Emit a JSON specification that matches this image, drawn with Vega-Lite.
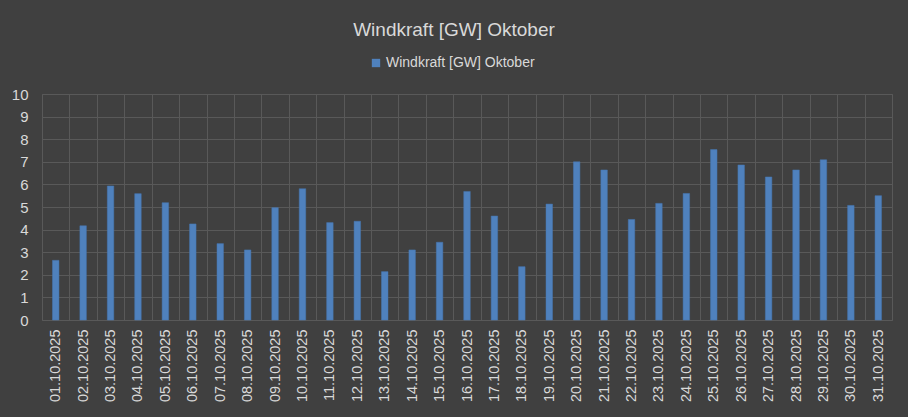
{
  "$schema": "https://vega.github.io/schema/vega-lite/v6.json",
  "width": 850,
  "height": 226,
  "autosize": "none",
  "padding": {"left": 42, "top": 94, "right": 16, "bottom": 97},
  "background": "#404040",
  "title": {
    "text": "Windkraft [GW] Oktober",
    "anchor": "middle",
    "frame": "group",
    "dx": -13,
    "offset": 16,
    "fontSize": 19,
    "fontWeight": "normal",
    "font": "Liberation Sans",
    "color": "#d9d9d9"
  },
  "config": {
    "view": {"stroke": "#595959", "strokeWidth": 1},
    "font": "Liberation Sans"
  },
  "data": {
    "values": [
      {"Datum": "01.10.2025", "GW": 2.64, "Serie": "Windkraft [GW] Oktober"},
      {"Datum": "02.10.2025", "GW": 4.17, "Serie": "Windkraft [GW] Oktober"},
      {"Datum": "03.10.2025", "GW": 5.93, "Serie": "Windkraft [GW] Oktober"},
      {"Datum": "04.10.2025", "GW": 5.59, "Serie": "Windkraft [GW] Oktober"},
      {"Datum": "05.10.2025", "GW": 5.19, "Serie": "Windkraft [GW] Oktober"},
      {"Datum": "06.10.2025", "GW": 4.25, "Serie": "Windkraft [GW] Oktober"},
      {"Datum": "07.10.2025", "GW": 3.38, "Serie": "Windkraft [GW] Oktober"},
      {"Datum": "08.10.2025", "GW": 3.10, "Serie": "Windkraft [GW] Oktober"},
      {"Datum": "09.10.2025", "GW": 4.97, "Serie": "Windkraft [GW] Oktober"},
      {"Datum": "10.10.2025", "GW": 5.81, "Serie": "Windkraft [GW] Oktober"},
      {"Datum": "11.10.2025", "GW": 4.31, "Serie": "Windkraft [GW] Oktober"},
      {"Datum": "12.10.2025", "GW": 4.37, "Serie": "Windkraft [GW] Oktober"},
      {"Datum": "13.10.2025", "GW": 2.14, "Serie": "Windkraft [GW] Oktober"},
      {"Datum": "14.10.2025", "GW": 3.10, "Serie": "Windkraft [GW] Oktober"},
      {"Datum": "15.10.2025", "GW": 3.44, "Serie": "Windkraft [GW] Oktober"},
      {"Datum": "16.10.2025", "GW": 5.69, "Serie": "Windkraft [GW] Oktober"},
      {"Datum": "17.10.2025", "GW": 4.60, "Serie": "Windkraft [GW] Oktober"},
      {"Datum": "18.10.2025", "GW": 2.36, "Serie": "Windkraft [GW] Oktober"},
      {"Datum": "19.10.2025", "GW": 5.13, "Serie": "Windkraft [GW] Oktober"},
      {"Datum": "20.10.2025", "GW": 7.00, "Serie": "Windkraft [GW] Oktober"},
      {"Datum": "21.10.2025", "GW": 6.64, "Serie": "Windkraft [GW] Oktober"},
      {"Datum": "22.10.2025", "GW": 4.45, "Serie": "Windkraft [GW] Oktober"},
      {"Datum": "23.10.2025", "GW": 5.16, "Serie": "Windkraft [GW] Oktober"},
      {"Datum": "24.10.2025", "GW": 5.60, "Serie": "Windkraft [GW] Oktober"},
      {"Datum": "25.10.2025", "GW": 7.54, "Serie": "Windkraft [GW] Oktober"},
      {"Datum": "26.10.2025", "GW": 6.86, "Serie": "Windkraft [GW] Oktober"},
      {"Datum": "27.10.2025", "GW": 6.33, "Serie": "Windkraft [GW] Oktober"},
      {"Datum": "28.10.2025", "GW": 6.64, "Serie": "Windkraft [GW] Oktober"},
      {"Datum": "29.10.2025", "GW": 7.09, "Serie": "Windkraft [GW] Oktober"},
      {"Datum": "30.10.2025", "GW": 5.07, "Serie": "Windkraft [GW] Oktober"},
      {"Datum": "31.10.2025", "GW": 5.50, "Serie": "Windkraft [GW] Oktober"}
    ]
  },
  "mark": {"type": "bar", "size": 6.5, "stroke": "#4677b0", "strokeWidth": 0.5},
  "encoding": {
    "x": {
      "field": "Datum",
      "type": "ordinal",
      "sort": null,
      "scale": {"paddingInner": 0, "paddingOuter": 0},
      "axis": {
        "title": null,
        "labelAngle": -90,
        "labelColor": "#d9d9d9",
        "labelFontSize": 14.5,
        "labelPadding": 9,
        "ticks": false,
        "domain": false,
        "grid": true,
        "tickBand": "extent",
        "gridColor": "#595959",
        "gridWidth": 1
      }
    },
    "y": {
      "field": "GW",
      "type": "quantitative",
      "scale": {"domain": [0, 10], "nice": false},
      "axis": {
        "title": null,
        "values": [0, 1, 2, 3, 4, 5, 6, 7, 8, 9, 10],
        "labelOverlap": false,
        "labelColor": "#d9d9d9",
        "labelFontSize": 15,
        "labelPadding": 14,
        "ticks": false,
        "domain": false,
        "gridColor": "#595959",
        "gridWidth": 1
      }
    },
    "color": {
      "field": "Serie",
      "type": "nominal",
      "scale": {"range": ["#4f81bd"]},
      "legend": {
        "title": null,
        "orient": "none",
        "direction": "horizontal",
        "legendX": 327,
        "legendY": -38,
        "symbolType": "square",
        "symbolSize": 70,
        "symbolStrokeWidth": 0,
        "labelColor": "#d9d9d9",
        "labelFontSize": 14,
        "labelOffset": 3
      }
    }
  }
}
